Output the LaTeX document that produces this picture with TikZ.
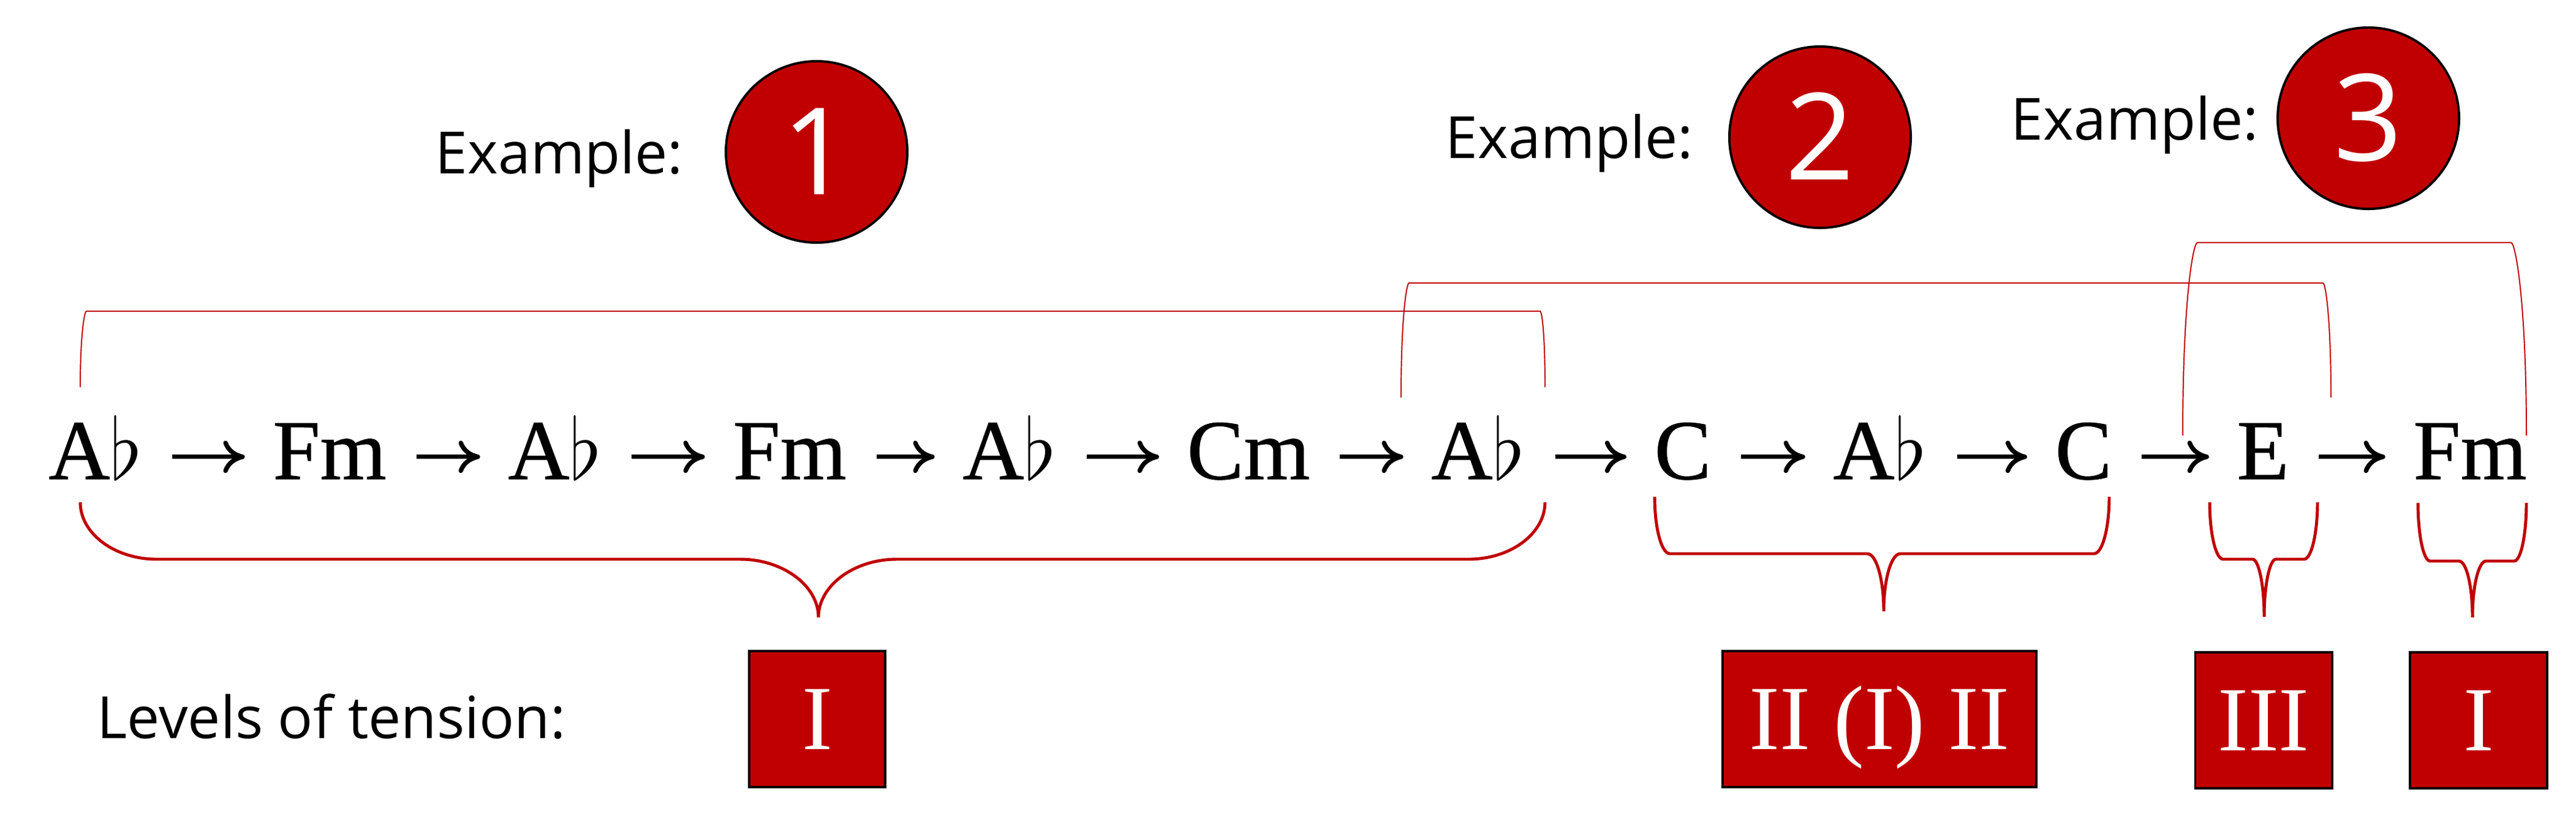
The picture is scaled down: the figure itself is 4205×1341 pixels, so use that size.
\documentclass[tikz,border=0pt]{standalone}
\usepackage{fix-cm}
\usepackage{fontspec}
\setmainfont{Liberation Serif}
\newfontfamily\uisans{Open Sans}
\newfontfamily\chordfam{Liberation Serif}[FakeBold=0.7]
\usetikzlibrary{arrows.meta}
\definecolor{dred}{HTML}{C00000}
\newcommand\chordfont{\chordfam\fontsize{39.5pt}{40pt}\selectfont}
\newcommand\romfont{\fontsize{42.6pt}{43pt}\selectfont}
\newcommand\labfont{\uisans\fontsize{27pt}{28pt}\selectfont}
\newcommand\digfont{\uisans\fontsize{56pt}{56pt}\selectfont}
\begin{document}
\begin{tikzpicture}[x=0.01cm,y=-0.01cm,
  chord/.style={font=\chordfont, inner sep=0pt, text height=20.6pt, text depth=0pt, anchor=base},
  arr/.style={line width=2.1pt, -{Computer Modern Rightarrow[length=10pt,width=15pt]}, shorten <=13.7pt, shorten >=12.8pt},
  lbl/.style={font=\labfont, inner sep=0pt, anchor=base},
  exnum/.style={circle, fill=dred, draw=black, line width=1.1pt, minimum size=2.96cm, inner sep=0pt, text=white, font=\digfont, text height=39.8pt, text depth=0pt},
  lvl/.style={rectangle, fill=dred, draw=black, line width=1.1pt, minimum height=2.22cm, inner sep=0pt, text=white, font=\romfont, text height=28.2pt, text depth=0pt},
  topbr/.style={draw=dred, line width=0.55pt},
  brace/.style={draw=dred, line width=1.4pt}]
\useasboundingbox (0,0) rectangle (4205,1341);
\fill[white] (0,0) rectangle (4205,1341);

% example labels and numbers
\node[lbl] (e1) at (913,283) {Example:};
\node[exnum] (n1) at (1333,248) {1};
\node[lbl] (e2) at (2562,258) {Example:};
\node[exnum] (n2) at (2971,224) {2};
\node[lbl] (e3) at (3485,228) {Example:};
\node[exnum] (n3) at (3866,193) {3};

% chords
\node[chord] (c1) at (156,782) {A$\flat$};
\node[chord] (c2) at (538,782) {Fm};
\node[chord] (c3) at (906,782) {A$\flat$};
\node[chord] (c4) at (1289,782) {Fm};
\node[chord] (c5) at (1648,782) {A$\flat$};
\node[chord] (c6) at (2038,782) {Cm};
\node[chord] (c7) at (2413,782) {A$\flat$};
\node[chord] (c8) at (2747,782) {C};
\node[chord] (c9) at (3069,782) {A$\flat$};
\node[chord] (c10) at (3401,782) {C};
\node[chord] (c11) at (3694,782) {E};
\node[chord] (c12) at (4032,782) {Fm};

\foreach \a/\b in {c1/c2,c2/c3,c3/c4,c4/c5,c5/c6,c6/c7,c7/c8,c8/c9,c9/c10,c10/c11,c11/c12}
  \draw[arr] (\a) -- (\b);

% top brackets
\draw[topbr] (131,632) .. controls (131,545) and (138,508) .. (141,508) -- (2514,508)
  .. controls (2517,508) and (2522,545) .. (2522,632);
\draw[topbr] (2287,649) .. controls (2287,518) and (2296,462) .. (2300,462) -- (3792,462)
  .. controls (3796,462) and (3805,518) .. (3805,649);
\draw[topbr] (3563,711) .. controls (3563,490) and (3580,396) .. (3587,396) -- (4099,396)
  .. controls (4106,396) and (4124,490) .. (4124,711);

% lower braces
\draw[brace] (131,820) .. controls (131,871) and (187,913) .. (256,913) -- (1208,913)
  .. controls (1278,913) and (1336,956) .. (1336,1008)
  .. controls (1336,956) and (1394,913) .. (1464,913) -- (2397,913)
  .. controls (2466,913) and (2522,871) .. (2522,820);
\draw[brace] (2701,811) .. controls (2701,862) and (2712,904) .. (2726,904) -- (3048,904)
  .. controls (3063,904) and (3075,946) .. (3075,998)
  .. controls (3075,946) and (3087,904) .. (3102,904) -- (3418,904)
  .. controls (3432,904) and (3443,862) .. (3443,811);
\draw[brace] (3607,820) .. controls (3607,871) and (3617,913) .. (3629,913) -- (3677,913)
  .. controls (3687,913) and (3696,955) .. (3696,1007)
  .. controls (3696,955) and (3705,913) .. (3715,913) -- (3761,913)
  .. controls (3773,913) and (3783,871) .. (3783,820);
\draw[brace] (3947,821) .. controls (3947,873) and (3956,916) .. (3967,916) -- (4014,916)
  .. controls (4026,916) and (4036,957) .. (4036,1008)
  .. controls (4036,957) and (4046,916) .. (4058,916) -- (4104,916)
  .. controls (4115,916) and (4124,873) .. (4124,821);

% levels of tension
\node[lbl] (lev) at (541,1205) {Levels of tension:};
\node[lvl, minimum width=2.22cm] (t1) at (1334,1174) {I};
\node[lvl, minimum width=5.11cm] (t2) at (3068,1174) {II (I) II};
\node[lvl, minimum width=2.23cm] (t3) at (3695,1176) {III};
\node[lvl, minimum width=2.24cm] (t4) at (4046,1176) {I};
\end{tikzpicture}
\end{document}
